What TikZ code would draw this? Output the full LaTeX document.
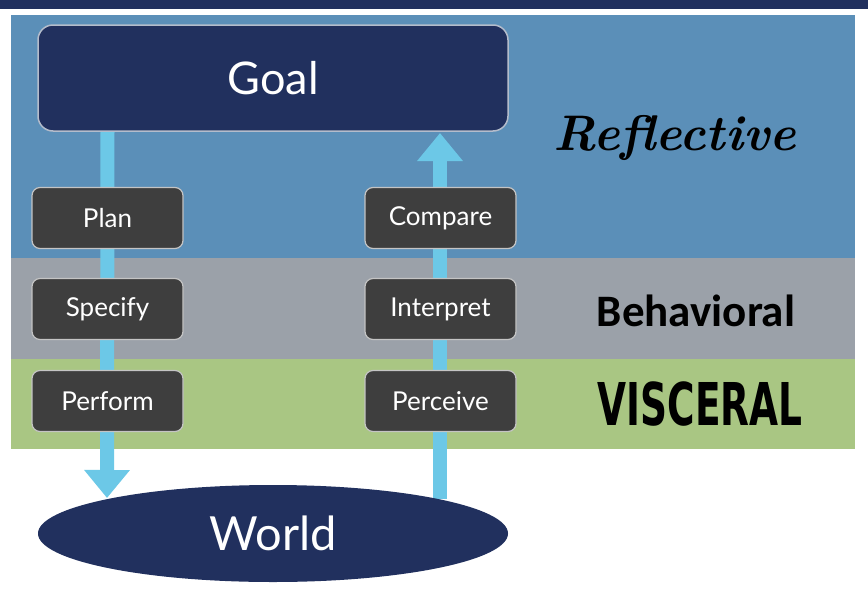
\documentclass[tikz,border=0pt]{standalone}
\usepackage{fontspec}
\usetikzlibrary{arrows.meta,shapes.geometric}
\newfontfamily\boxfont{Lato}
\newfontfamily\labfont{Carlito}
\newfontfamily\heavyfont{DejaVu Sans}
\definecolor{navy}{HTML}{21305E}
\definecolor{bandblue}{HTML}{5B8FB8}
\definecolor{bandgray}{HTML}{9BA1A9}
\definecolor{bandgreen}{HTML}{A9C683}
\definecolor{boxgray}{HTML}{3E3E3E}
\definecolor{boxedge}{HTML}{C4C4C4}
\definecolor{goaledge}{HTML}{B4BCCB}
\definecolor{flowcyan}{HTML}{6CC8E7}
\pgfdeclarelayer{bands}
\pgfdeclarelayer{flows}
\pgfsetlayers{bands,flows,main}
\tikzset{
  stagebox/.style={draw=boxedge, line width=1.2pt, fill=boxgray, rounded corners=8pt,
    minimum width=151pt, minimum height=61pt, inner sep=0pt, text=white,
    font=\boxfont\fontsize{26}{30}\selectfont},
  goalbox/.style={draw=goaledge, line width=1.5pt, fill=navy, rounded corners=15pt,
    minimum width=470pt, minimum height=106pt, inner sep=0pt, text=white,
    font=\boxfont\fontsize{45}{52}\selectfont},
  worldshape/.style={ellipse, fill=navy, minimum width=470pt, minimum height=97pt,
    inner sep=0pt, text=white, font=\boxfont\fontsize{47}{54}\selectfont},
  flow/.style={draw=flowcyan, line width=14pt,
    -{Triangle[width=44pt,length=28pt]}, shorten >=0pt},
  bandlabel/.style={anchor=base, inner sep=0pt, text=black}
}
\begin{document}
\begin{tikzpicture}[x=1pt,y=-1pt]
\useasboundingbox (0,0) rectangle (868,592);
% nodes
\node[goalbox] (goal) at (273,78) {Goal};
\node[stagebox] (plan) at (107.5,218) {Plan};
\node[stagebox] (specify) at (107.5,309) {Specify};
\node[stagebox] (perform) at (107.5,401) {Perform};
\node[stagebox] (compare) at (440.5,218) {Compare};
\node[stagebox] (interpret) at (440.5,309) {Interpret};
\node[stagebox] (perceive) at (440.5,401) {Perceive};
\node[worldshape] (world) at (273,533.5) {World};
\coordinate (wl) at (107,498);
\coordinate (wr) at (440,499);
\coordinate (gr) at (440,133);
% band labels
\node[bandlabel, font=\bfseries\itshape\fontsize{50}{54}\selectfont] (refl) at (675,150) {Reflective};
\node[bandlabel, font=\labfont\bfseries\fontsize{45}{50}\selectfont] (beh) at (696,326) {Behavioral};
\node[bandlabel] (visc) at (700,425) {\scalebox{0.75}[1.18]{\heavyfont\bfseries\fontsize{50}{52}\selectfont VISCERAL}};
% bands
\begin{pgfonlayer}{bands}
  \fill[white] (0,0) rectangle (868,592);
  \fill[navy] (0,0) rectangle (868,9);
  \fill[bandblue] (11,15) rectangle (855,258);
  \fill[bandgray] (11,258) rectangle (855,359);
  \fill[bandgreen] (11,359) rectangle (855,449);
\end{pgfonlayer}
% flows
\begin{pgfonlayer}{flows}
  \draw[flow] (goal.south -| plan.center) -- (wl);
  \draw[flow] (wr) -- (gr);
\end{pgfonlayer}
\end{tikzpicture}
\end{document}
